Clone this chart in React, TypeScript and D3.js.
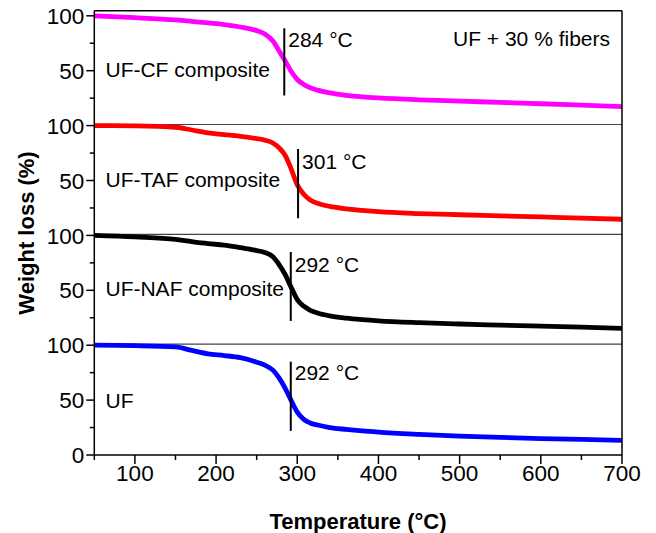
import React from "react";
import * as d3 from "d3";

const temperatures = [50, 100, 150, 170, 190, 210, 230, 250, 260, 270, 278, 285, 292, 300, 308, 316, 325, 340, 360, 380, 400, 450, 500, 550, 600, 650, 700];
const ufCfWeight = [100, 98.3, 96.2, 95, 93.5, 92, 89.8, 86.5, 83.5, 77, 67.5, 59, 50, 42, 37.5, 34.5, 32.3, 29.8, 27.6, 26.2, 25.2, 23.5, 22.3, 21.1, 19.9, 18.6, 17.3];
const ufTafWeight = [100, 99.7, 98.5, 96, 93.3, 91.8, 90.2, 88.2, 86.8, 84.2, 79.5, 73, 61.5, 46, 37.5, 32.2, 29.3, 26.4, 24.2, 22.8, 21.6, 19.9, 18.8, 17.8, 16.8, 15.8, 14.7];
const ufNafWeight = [100, 98.6, 96.4, 94.3, 92.5, 91.2, 88.8, 86.2, 84.5, 80.5, 73, 64.5, 53.5, 41.5, 35.5, 31.8, 29.3, 26.7, 24.7, 23.3, 22.2, 20.5, 19.3, 18.3, 17.4, 16.4, 15.3];
const ufWeight = [100, 99.6, 98.4, 95.3, 92.2, 90.6, 88.6, 84.5, 81.8, 77.3, 69.8, 61, 50.5, 39, 32.5, 29.2, 27.3, 25, 23.3, 21.9, 20.8, 18.8, 17.2, 16, 15, 14.2, 13.4];

const panelNames = ["UF-CF composite", "UF-TAF composite", "UF-NAF composite", "UF"];
const panelColors = ["#ff00ff", "#ff0000", "#000000", "#0000ff"];
const onsetTemps = [284, 301, 292, 292];
const onsetLabels = ["284 °C", "301 °C", "292 °C", "292 °C"];
const onsetLineTop = [88.6, 78.7, 84.9, 85];
const onsetLineBottom = [27.4, 15.6, 22.1, 22];
const onsetLabelY = [72, 60.5, 67, 68];
const nameLabelY = [44.5, 44.4, 44.4, 42.8];

const xMajorTicks = [100, 200, 300, 400, 500, 600, 700];
const xMinorTicks = [50, 150, 250, 350, 450, 550, 650];
const yMajorTicks = [100, 50];
const yMinorTicks = [75, 25];

const series = [ufCfWeight, ufTafWeight, ufNafWeight, ufWeight];

const W = 656;
const H = 533;
const left = 94.3;
const right = 622;
const bottom = 455;
const panelH = 109.8;
const frameTop = 10.7;
const FONT = "'Liberation Sans', Arial, sans-serif";
const TICK_FS = 22.5;

export default function App() {
  const x = d3.scaleLinear().domain([50, 700]).range([left, right]);
  const yFor = (i: number) =>
    d3
      .scaleLinear()
      .domain([0, 100])
      .range([bottom - (3 - i) * panelH, bottom - (3 - i) * panelH - panelH]);

  return (
    <svg
      width={W}
      height={H}
      style={{ position: "absolute", left: 0, top: 0, background: "#fff" }}
      fontFamily={FONT}
    >
      <rect x={0} y={0} width={W} height={H} fill="#fff" />
      {[1, 2, 3].map((i) => {
        const y = yFor(i)(101);
        return <line key={"sep" + i} x1={left} x2={right} y1={y} y2={y} stroke="#444" strokeWidth={1.2} />;
      })}
      {series.map((vals, i) => {
        const y = yFor(i);
        const line = d3
          .line<number>()
          .x((_, k) => x(temperatures[k]))
          .y((v) => y(v))
          .curve(d3.curveMonotoneX);
        return (
          <g key={"s" + i}>
            <path d={line(vals) || ""} fill="none" stroke={panelColors[i]} strokeWidth={4.8} />
            <line
              x1={x(onsetTemps[i])}
              x2={x(onsetTemps[i])}
              y1={y(onsetLineTop[i])}
              y2={y(onsetLineBottom[i])}
              stroke="#000"
              strokeWidth={2}
            />
            <text x={x(onsetTemps[i]) + 4} y={y(onsetLabelY[i])} fontSize={21} fill="#000">
              {onsetLabels[i]}
            </text>
            <text x={x(65) - 1} y={y(nameLabelY[i])} fontSize={21} fill="#000">
              {panelNames[i]}
            </text>
            {yMajorTicks.map((t) => (
              <g key={"ym" + t}>
                <line x1={left - 8} x2={left} y1={y(t)} y2={y(t)} stroke="#000" strokeWidth={1.5} />
                <text x={left - 10} y={y(t)} dy="0.36em" textAnchor="end" fontSize={TICK_FS}>
                  {t}
                </text>
              </g>
            ))}
            {yMinorTicks.map((t) => (
              <line key={"yn" + t} x1={left - 4.5} x2={left} y1={y(t)} y2={y(t)} stroke="#000" strokeWidth={1.5} />
            ))}
          </g>
        );
      })}
      <line x1={left - 8} x2={left} y1={yFor(3)(0)} y2={yFor(3)(0)} stroke="#000" strokeWidth={1.5} />
      <text x={left - 10} y={yFor(3)(0)} dy="0.36em" textAnchor="end" fontSize={TICK_FS}>
        0
      </text>
      <line x1={left} x2={right} y1={frameTop} y2={frameTop} stroke="#000" strokeWidth={1.5} />
      <line x1={right} x2={right} y1={frameTop} y2={bottom} stroke="#000" strokeWidth={1.5} />
      <line x1={left} x2={left} y1={frameTop} y2={bottom} stroke="#000" strokeWidth={1.5} />
      <line x1={left} x2={right} y1={bottom} y2={bottom} stroke="#000" strokeWidth={1.5} />
      {xMajorTicks.map((t) => (
        <g key={"xm" + t}>
          <line x1={x(t)} x2={x(t)} y1={bottom} y2={bottom + 9} stroke="#000" strokeWidth={1.5} />
          <text x={x(t)} y={481} textAnchor="middle" fontSize={TICK_FS}>
            {t}
          </text>
        </g>
      ))}
      {xMinorTicks.map((t) => (
        <line key={"xn" + t} x1={x(t)} x2={x(t)} y1={bottom} y2={bottom + 5} stroke="#000" strokeWidth={1.5} />
      ))}
      <text x={610} y={46} textAnchor="end" fontSize={21}>
        UF + 30 % fibers
      </text>
      <text x={358} y={529} textAnchor="middle" fontSize={22} fontWeight="bold">
        Temperature (°C)
      </text>
      <text transform="translate(34,233) rotate(-90)" textAnchor="middle" fontSize={22} fontWeight="bold">
        Weight loss (%)
      </text>
    </svg>
  );
}
